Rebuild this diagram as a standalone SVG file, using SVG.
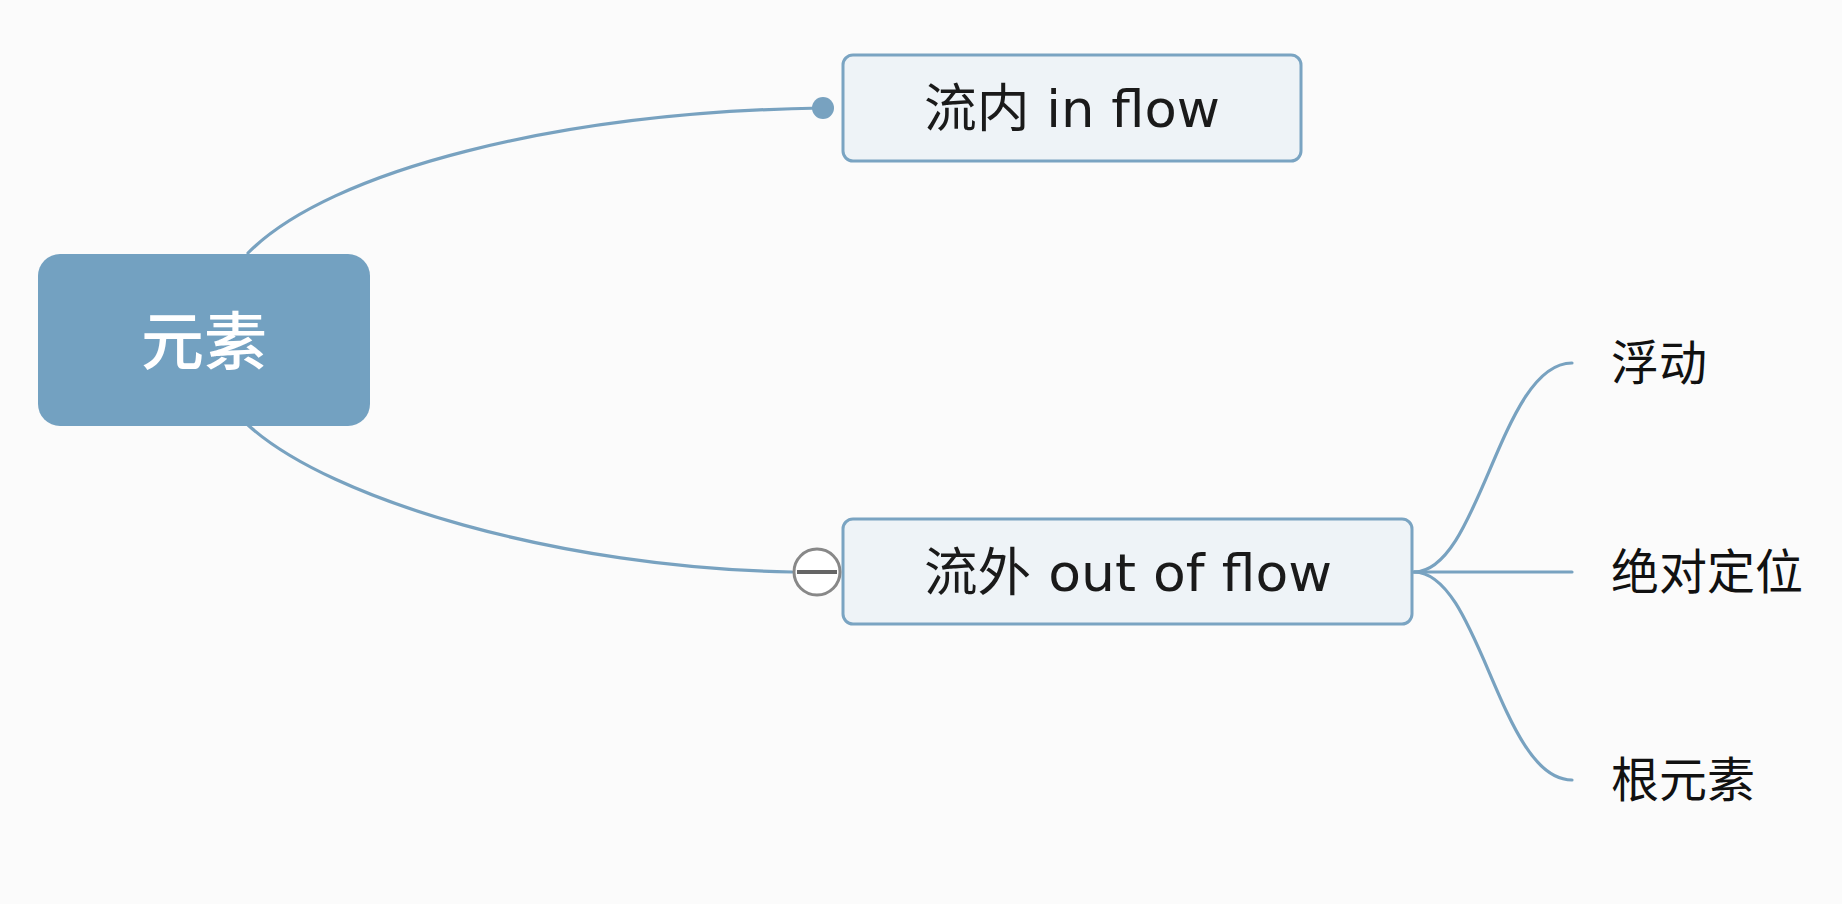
<svg xmlns="http://www.w3.org/2000/svg" width="1842" height="904" viewBox="0 0 1842 904">
<style>
.bg{fill:#fbfbfb}
.conn{fill:none;stroke:#78a2c0;stroke-width:3.2;stroke-linecap:round}
.root{fill:#73a1c1}
.topic{fill:#eef3f7;stroke:#7aa4c2;stroke-width:3}
.t{font-family:"DejaVu Sans","Noto Sans CJK SC",sans-serif;fill:#1a1a1a}
.rt{font-family:"Noto Sans CJK SC",sans-serif;fill:#ffffff;font-size:63px;font-weight:500}
.ct{font-family:"Noto Sans CJK SC",sans-serif;fill:#111111;font-size:48px}
</style>
<rect class="bg" x="0" y="0" width="1842" height="904"/>
<g id="connectors">
<path class="conn" d="M248,253 C330,170 560,112 822,108"/>
<path class="conn" d="M248,425 C330,500 560,568 792,572"/>
<path class="conn" d="M1414,572 C1480,572 1500,363 1572,363"/>
<path class="conn" d="M1414,572 L1572,572"/>
<path class="conn" d="M1414,572 C1480,572 1500,780 1572,780"/>
<circle cx="823" cy="108" r="11" fill="#78a2c0"/>
</g>
<g id="root">
<rect class="root" x="38" y="254" width="332" height="172" rx="22"/>
<text class="rt" x="204" y="364" text-anchor="middle">元素</text>
</g>
<g id="inflow">
<rect class="topic" x="843" y="55" width="458" height="106" rx="10"/>
<text class="t" x="1072" y="127" text-anchor="middle" font-size="52" textLength="296" lengthAdjust="spacingAndGlyphs">流内 in flow</text>
</g>
<g id="outflow">
<rect class="topic" x="843" y="519" width="569" height="105" rx="10"/>
<circle cx="817" cy="572" r="23" fill="#ffffff" stroke="#888888" stroke-width="3"/>
<line x1="797" y1="572" x2="837" y2="572" stroke="#666666" stroke-width="4"/>
<text class="t" x="1128" y="591" text-anchor="middle" font-size="52" textLength="408" lengthAdjust="spacingAndGlyphs">流外 out of flow</text>
</g>
<g id="float">
<text class="ct" x="1611" y="380">浮动</text>
</g>
<g id="absolute">
<text class="ct" x="1611" y="589">绝对定位</text>
</g>
<g id="rootel">
<text class="ct" x="1611" y="797">根元素</text>
</g>
</svg>
